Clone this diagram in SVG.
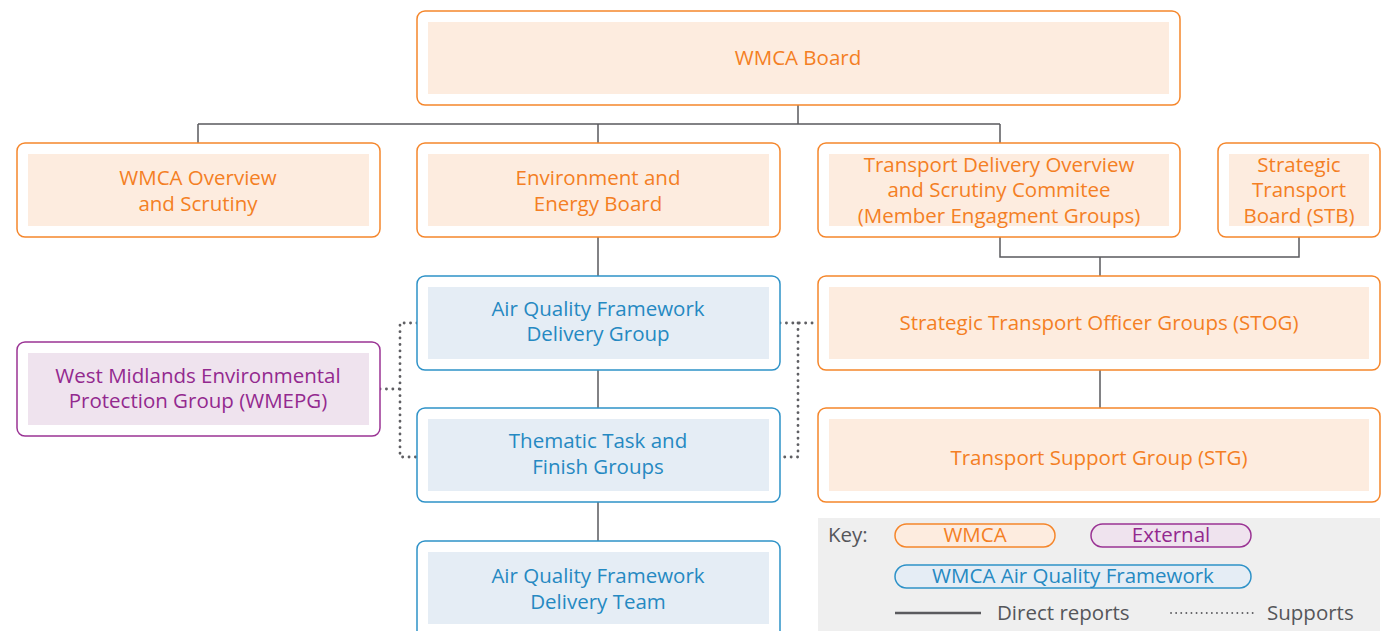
<svg xmlns="http://www.w3.org/2000/svg" width="1386" height="631" viewBox="0 0 1386 631">
<style>
.o{fill:#fff;stroke:#F5862B;stroke-width:1.5}
.oi{fill:#FDECDF}
.b{fill:#fff;stroke:#2E92C8;stroke-width:1.5}
.bi{fill:#E5EDF5}
.p{fill:#fff;stroke:#9A3394;stroke-width:1.5}
.pi{fill:#EFE3EE}
text{font-family:"Open Sans","Liberation Sans",sans-serif;font-size:20.5px;font-weight:500;text-anchor:middle}
.to{fill:#F47F24}
.tb{fill:#2589C2}
.tp{fill:#93298F}
.tg{fill:#55565A;text-anchor:start}
.ln{fill:none;stroke:#5A5A5E;stroke-width:1.5}
.dt{fill:none;stroke:#5F5F63;stroke-width:2.8;stroke-dasharray:0.1 6.3;stroke-linecap:round}
</style>
<g id="connectors">
<path class="ln" d="M798 105V124M198 124H1000M198 124V143M598 124V143M1000 124V143"/>
<path class="ln" d="M1000 237V257H1299V237M1100 257V276M1100 370V408"/>
<path class="ln" d="M598 237V276M598 370V408M598 502V541"/>
<path class="dt" d="M380 389H400M417 323H400V457H417"/>
<path class="dt" d="M780 323H818M798 323V457H780"/>
</g>
<g id="wmca-board">
<rect class="o" x="417" y="11" width="763" height="94" rx="8"/>
<rect class="oi" x="428" y="22" width="741" height="72"/>
<text class="to" x="798" y="65">WMCA Board</text>
</g>
<g id="overview">
<rect class="o" x="17" y="143" width="363" height="94" rx="8"/>
<rect class="oi" x="28" y="154" width="341" height="72"/>
<text class="to" x="198" y="185">WMCA Overview</text>
<text class="to" x="198" y="211">and Scrutiny</text>
</g>
<g id="env-board">
<rect class="o" x="417" y="143" width="363" height="94" rx="8"/>
<rect class="oi" x="428" y="154" width="341" height="72"/>
<text class="to" x="598" y="185">Environment and</text>
<text class="to" x="598" y="211">Energy Board</text>
</g>
<g id="transport-delivery">
<rect class="o" x="818" y="143" width="362" height="94" rx="8"/>
<rect class="oi" x="829" y="154" width="340" height="72"/>
<text class="to" x="999" y="172">Transport Delivery Overview</text>
<text class="to" x="999" y="197">and Scrutiny Commitee</text>
<text class="to" x="999" y="223">(Member Engagment Groups)</text>
</g>
<g id="stb">
<rect class="o" x="1218" y="143" width="162" height="94" rx="8"/>
<rect class="oi" x="1229" y="154" width="140" height="72"/>
<text class="to" x="1299" y="172">Strategic</text>
<text class="to" x="1299" y="197">Transport</text>
<text class="to" x="1299" y="223">Board (STB)</text>
</g>
<g id="stog">
<rect class="o" x="818" y="276" width="562" height="94" rx="8"/>
<rect class="oi" x="829" y="287" width="540" height="72"/>
<text class="to" x="1099" y="330">Strategic Transport Officer Groups (STOG)</text>
</g>
<g id="stg">
<rect class="o" x="818" y="408" width="562" height="94" rx="8"/>
<rect class="oi" x="829" y="419" width="540" height="72"/>
<text class="to" x="1099" y="465">Transport Support Group (STG)</text>
</g>
<g id="aqf-group">
<rect class="b" x="417" y="276" width="363" height="94" rx="8"/>
<rect class="bi" x="428" y="287" width="341" height="72"/>
<text class="tb" x="598" y="316">Air Quality Framework</text>
<text class="tb" x="598" y="341">Delivery Group</text>
</g>
<g id="thematic">
<rect class="b" x="417" y="408" width="363" height="94" rx="8"/>
<rect class="bi" x="428" y="419" width="341" height="72"/>
<text class="tb" x="598" y="448">Thematic Task and</text>
<text class="tb" x="598" y="474">Finish Groups</text>
</g>
<g id="aqf-team">
<rect class="b" x="417" y="541" width="363" height="100" rx="8"/>
<rect class="bi" x="428" y="552" width="341" height="72"/>
<text class="tb" x="598" y="583">Air Quality Framework</text>
<text class="tb" x="598" y="609">Delivery Team</text>
</g>
<g id="wmepg">
<rect class="p" x="17" y="342" width="363" height="94" rx="8"/>
<rect class="pi" x="28" y="353" width="341" height="72"/>
<text class="tp" x="198" y="383">West Midlands Environmental</text>
<text class="tp" x="198" y="408">Protection Group (WMEPG)</text>
</g>
<g id="key">
<rect x="818" y="518" width="562" height="113" fill="#EFEFEF"/>
<text class="tg" x="828" y="542">Key:</text>
<rect x="895" y="524" width="160" height="23" rx="11.5" fill="#FDECDF" stroke="#F5862B" stroke-width="1.5"/>
<text class="to" x="975" y="542">WMCA</text>
<rect x="1091" y="524" width="160" height="23" rx="11.5" fill="#EFE3EE" stroke="#9A3394" stroke-width="1.5"/>
<text class="tp" x="1171" y="542">External</text>
<rect x="895" y="565" width="356" height="23" rx="11.5" fill="#E5EDF5" stroke="#2E92C8" stroke-width="1.5"/>
<text class="tb" x="1073" y="583">WMCA Air Quality Framework</text>
<path d="M895 613H981" stroke="#5A5A5E" stroke-width="2.5"/>
<text class="tg" x="997" y="620">Direct reports</text>
<path d="M1171 613H1253" stroke="#5F5F63" stroke-width="1.8" stroke-dasharray="0.1 5" stroke-linecap="round"/>
<text class="tg" x="1267" y="620">Supports</text>
</g>
</svg>
